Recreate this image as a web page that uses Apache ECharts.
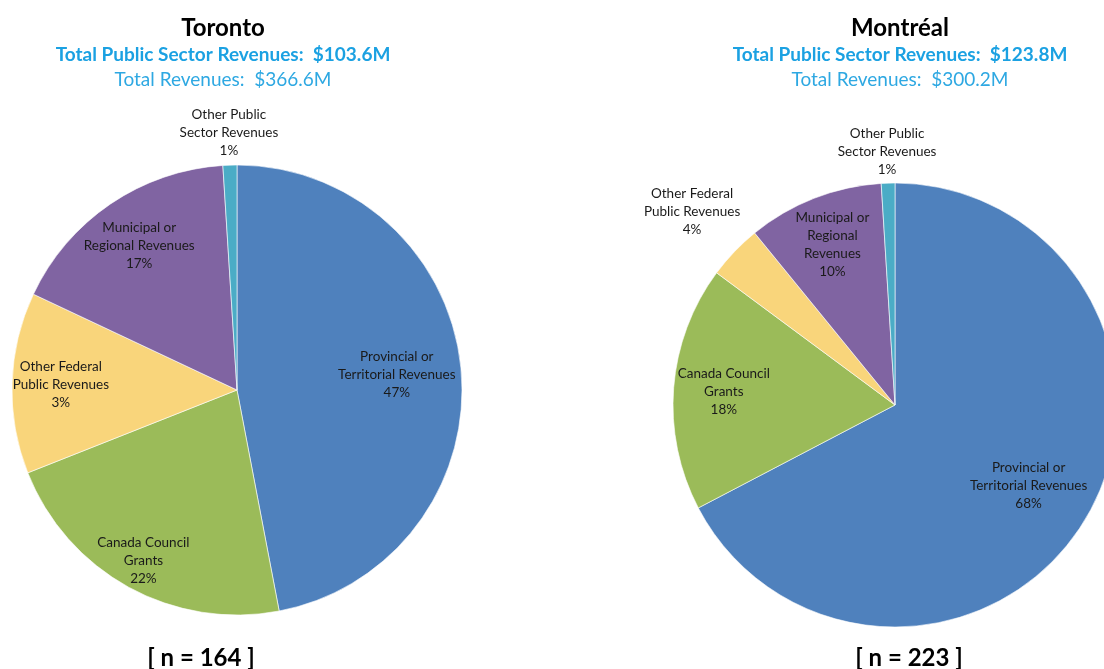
<!DOCTYPE html>
<html>
<head>
<meta charset="utf-8">
<script src="https://cdn.jsdelivr.net/npm/echarts@6/dist/echarts.min.js"></script>
<style>
  html, body { margin: 0; padding: 0; background: #fff; }
  #chart { width: 1104px; height: 669px; }
</style>
</head>
<body>
<div id="chart"></div>
<script>
// slice order, clockwise from 12 o'clock
const categories = ['Provincial or Territorial Revenues', 'Canada Council Grants', 'Other Federal Public Revenues', 'Municipal or Regional Revenues', 'Other Public Sector Revenues'];
const colors = ['#4F81BD', '#9BBB59', '#F9D57B', '#8064A2', '#4BACC6'];

// Toronto
const torontoValues = [47, 22, 13, 17, 1];
const torontoLabels = ['Provincial or\nTerritorial Revenues\n47%', 'Canada Council\nGrants\n22%', 'Other Federal\nPublic Revenues\n3%', 'Municipal or\nRegional Revenues\n17%', 'Other Public\nSector Revenues\n1%'];
const torontoLabelRatio = [0.70, 0.85, 0.77, 0.76, 1.13];

// Montréal
const montrealValues = [68, 18, 4, 10, 1];
const montrealLabels = ['Provincial or\nTerritorial Revenues\n68%', 'Canada Council\nGrants\n18%', 'Other Federal\nPublic Revenues\n4%', 'Municipal or\nRegional\nRevenues\n10%', 'Other Public\nSector Revenues\n1%'];
const montrealLabelRatio = [0.69, 0.76, 1.25, 0.76, 1.13];

const FONT = 'Lato, "Open Sans", sans-serif';

const chart = echarts.init(document.getElementById('chart'));

function pieData(values) {
  return values.map((v, i) => ({ name: categories[i], value: v, itemStyle: { color: colors[i] } }));
}

// main pie, no labels
function mainPie(center, R, values) {
  return {
    type: 'pie',
    center: center,
    radius: [0, R],
    startAngle: 90,
    clockwise: true,
    silent: true,
    animation: false,
    label: { show: false },
    labelLine: { show: false },
    itemStyle: { borderColor: '#fff', borderWidth: 0.6 },
    data: pieData(values)
  };
}

// invisible ring so the "inside" label of one slice sits at ratio*R from the centre
function labelRing(center, R, values, labels, ratio, idx) {
  return {
    type: 'pie',
    center: center,
    radius: [(ratio - 0.02) * R, (ratio + 0.02) * R],
    startAngle: 90,
    clockwise: true,
    silent: true,
    animation: false,
    itemStyle: { color: 'transparent', borderWidth: 0 },
    labelLine: { show: false },
    data: values.map((v, i) => ({
      name: categories[i],
      value: v,
      label: {
        show: i === idx,
        position: 'inside',
        rotate: 0,
        formatter: labels[i],
        color: '#1a1a1a',
        fontFamily: FONT,
        fontSize: 13.5,
        lineHeight: 18,
        align: 'center'
      }
    }))
  };
}

function cityTitle(x, name, pub, total) {
  return {
    left: x,
    top: 9,
    textAlign: 'center',
    text: '{a|' + name + '}\n{b|Total Public Sector Revenues:  ' + pub + '}\n{c|Total Revenues:  ' + total + '}',
    textStyle: {
      rich: {
        a: { fontFamily: FONT, fontSize: 24, fontWeight: 'bold', color: '#000', lineHeight: 28 },
        b: { fontFamily: FONT, fontSize: 19, fontWeight: 'bold', color: '#1BA1E2', lineHeight: 26 },
        c: { fontFamily: FONT, fontSize: 19, fontWeight: 'normal', color: '#2EA8E2', lineHeight: 24 }
      }
    }
  };
}

function nTitle(x, n) {
  return {
    left: x,
    top: 641,
    textAlign: 'center',
    text: '[ n = ' + n + ' ]',
    textStyle: { fontFamily: FONT, fontSize: 24, fontWeight: 'bold', color: '#000', lineHeight: 24 }
  };
}

const torCenter = [237, 390], torR = 225;
const monCenter = [895, 405], monR = 222;

const series = [mainPie(torCenter, torR, torontoValues), mainPie(monCenter, monR, montrealValues)];
torontoLabelRatio.forEach((r, i) => series.push(labelRing(torCenter, torR, torontoValues, torontoLabels, r, i)));
montrealLabelRatio.forEach((r, i) => series.push(labelRing(monCenter, monR, montrealValues, montrealLabels, r, i)));

chart.setOption({
  backgroundColor: '#fff',
  animation: false,
  title: [
    cityTitle(218, 'Toronto', '$103.6M', '$366.6M'),
    cityTitle(895, 'Montréal', '$123.8M', '$300.2M'),
    nTitle(196, 164),
    nTitle(904, 223)
  ],
  series: series
});
</script>
</body>
</html>
